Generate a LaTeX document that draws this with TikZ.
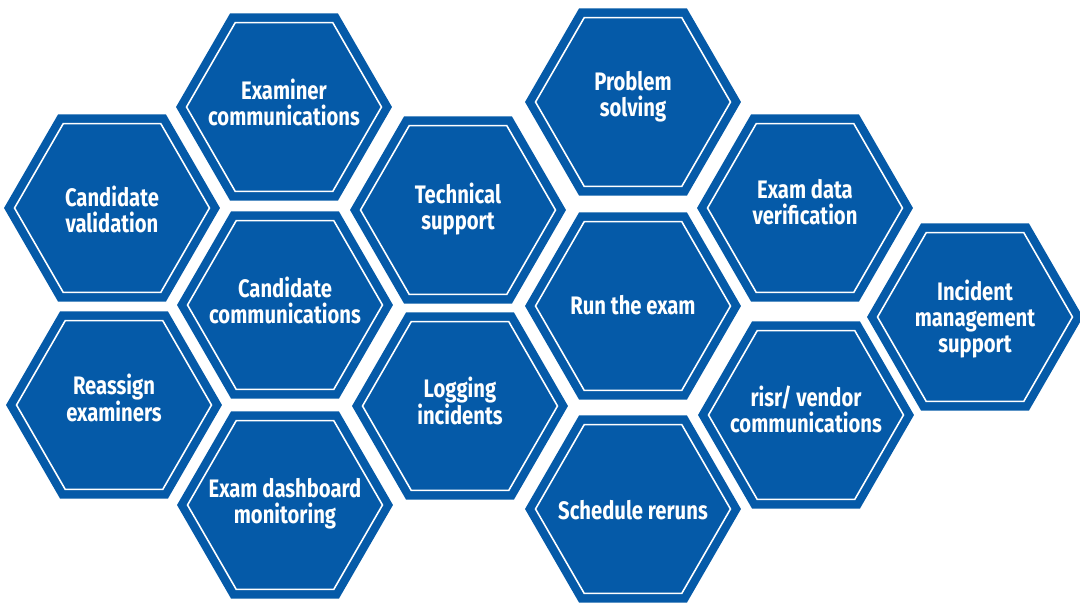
\documentclass[tikz,border=0pt]{standalone}
\usepackage{fontspec}
\usepackage{xcolor}
\usepackage{tikz}
\usetikzlibrary{shapes.geometric}
\setsansfont[FakeStretch=0.8]{Fira Sans}
\definecolor{hexblue}{RGB}{5,90,168}
\tikzstyle{hexcell} = [regular polygon, regular polygon sides=6,
fill=hexblue, inner sep=0pt, minimum size=4.32cm]
\tikzstyle{hexrim} = [regular polygon, regular polygon sides=6,
draw=white, line width=0.9pt, inner sep=0pt, minimum size=3.9cm]
\tikzstyle{hextext} = [text=white, font=\sffamily\bfseries\fontsize{14.4}{14.8}\selectfont,
align=center, inner sep=0pt]

\begin{document}
\begin{tikzpicture}[x=0.02cm, y=-0.02cm]
        \useasboundingbox (0,0) rectangle (1080,603);
        \foreach \x/\y/\ty/\nm/\txt in {
            112/208/209/cval/{Candidate\\validation},
            114/405/398/reassign/{Reassign\\examiners},
            284/107/102/excomm/{Examiner\\communications},
            285/305/300/cacomm/{Candidate\\communications},
            285/505/504/dash/{Exam dashboard\\monitoring},
            458/210/209/tech/{Technical\\support},
            460/406/401/logging/{Logging\\incidents},
            633/102/97/problem/{Problem\\solving},
            633/306/305/run/{Run the exam},
            633/509/510/rerun/{Schedule reruns},
            805/208/202/verify/{Exam data\\verification},
            806/415/409/vendor/{risr/ vendor\\communications},
            975/317/319/incident/{Incident\\management\\support}}{
            \node[hexcell] (\nm) at (\x,\y) {};
            \node[hexrim] (\nm-rim) at (\nm) {};
            \node[hextext] (\nm-txt) at (\x,\ty) {\txt};
        }
    \end{tikzpicture}
\end{document}
